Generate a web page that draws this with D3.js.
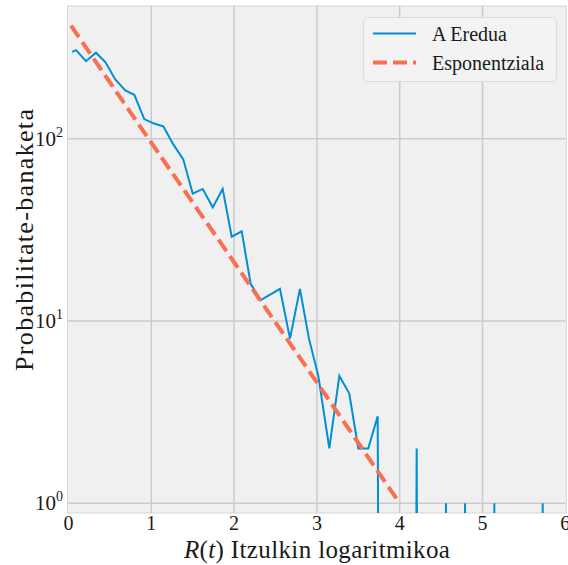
<!DOCTYPE html>
<html>
<head>
<meta charset="utf-8">
<script src="https://cdn.jsdelivr.net/npm/d3@7"></script>
<style>
  body { margin: 0; background: #ffffff; }
  svg text { font-family: "Liberation Serif", "DejaVu Serif", serif; fill: #1a1a1a; }
</style>
</head>
<body>
<svg id="chart" width="568" height="565"></svg>
<script>
// Histogram (A Eredua) - x positions and counts, 0 = empty bin
var ereduaX = [0.042, 0.091, 0.211, 0.332, 0.445, 0.565, 0.686, 0.795, 0.915, 1.032,
               1.145, 1.266, 1.386, 1.500, 1.621, 1.742, 1.862, 1.971, 2.092, 2.200,
               2.321, 2.440, 2.554, 2.675, 2.795, 2.904, 3.017, 3.150, 3.271, 3.391,
               3.500, 3.620, 3.734, 3.852, 3.970, 4.088, 4.205, 4.323, 4.441, 4.559,
               4.674, 4.789, 4.907, 5.025, 5.143, 5.260, 5.377, 5.494, 5.611, 5.727, 5.845];
var ereduaY = [299, 306, 266, 296, 263, 211, 184, 174, 128, 121,
               117, 93, 77, 50, 53, 42, 53, 29, 31, 16,
               13, 14, 15, 8, 15, 8, 5, 2, 5, 4,
               2, 2, 3, 0, 0, 0, 2, 0, 0, 1,
               0, 1, 0, 0, 1, 0, 0, 0, 0, 1, 0];

// Esponentziala (dashed fit)
var espX = [0.03, 1, 2, 3, 4.0];
var espY = [417, 95, 21, 4.6, 1.0];

var xTicks = [0, 1, 2, 3, 4, 5, 6];
var yTicks = [1, 10, 100];
var yExp = ["0", "1", "2"];

var svg = d3.select("#chart");

// Plot area ("top" is taken by window.top, so other names)
var pLeft = 68.5, pRight = 565.3, pTop = 6, pBottom = 513;

var x = d3.scaleLinear().domain([0, 6]).range([pLeft, pRight]);
var y = d3.scaleLog().domain([0.885, 534]).range([pBottom, pTop]);

svg.append("rect")
    .attr("x", pLeft - 1).attr("y", pTop)
    .attr("width", pRight - pLeft + 2).attr("height", pBottom - pTop)
    .attr("fill", "#f0f0f0")
    .attr("stroke", "#d6d6d6")
    .attr("stroke-width", 1);

// grid
svg.append("g")
    .selectAll("line")
    .data(xTicks.slice(1, 6))
    .enter()
    .append("line")
    .attr("x1", function(d) { return x(d); })
    .attr("x2", function(d) { return x(d); })
    .attr("y1", pTop).attr("y2", pBottom)
    .attr("stroke", "#cbcbcb").attr("stroke-width", 1.5);

svg.append("g")
    .selectAll("line")
    .data(yTicks)
    .enter()
    .append("line")
    .attr("x1", pLeft).attr("x2", pRight)
    .attr("y1", function(d) { return y(d); })
    .attr("y2", function(d) { return y(d); })
    .attr("stroke", "#cbcbcb").attr("stroke-width", 1.5);

// clip
svg.append("clipPath").attr("id", "clip")
    .append("rect")
    .attr("x", pLeft).attr("y", pTop)
    .attr("width", pRight - pLeft).attr("height", pBottom - pTop);

var plot = svg.append("g").attr("clip-path", "url(#clip)");

// zeros go far below the axis like matplotlib does on a log axis
var floorValue = 1e-12;

var ereduaData = ereduaX.map(function(d, i) { return { x: d, v: ereduaY[i] }; });
var espData = espX.map(function(d, i) { return { x: d, v: espY[i] }; });

var linea = d3.line()
    .x(function(d) { return x(d.x); })
    .y(function(d) { return y(d.v > 0 ? d.v : floorValue); });

plot.append("path")
    .datum(ereduaData)
    .attr("d", linea)
    .attr("fill", "none")
    .attr("stroke", "#008fd5")
    .attr("stroke-width", 2)
    .attr("stroke-linejoin", "miter");

plot.append("path")
    .datum(espData)
    .attr("d", linea)
    .attr("fill", "none")
    .attr("stroke", "#fa6e52")
    .attr("stroke-width", 4)
    .attr("stroke-dasharray", "14,6");

// x tick labels
svg.append("g")
    .selectAll("text")
    .data(xTicks)
    .enter()
    .append("text")
    .attr("x", function(d) { return x(d); })
    .attr("y", 530)
    .attr("text-anchor", "middle")
    .style("font-size", "20px")
    .text(function(d) { return d; });

// y tick labels 10^n
var yLab = svg.append("g")
    .selectAll("text")
    .data(yTicks)
    .enter()
    .append("text")
    .attr("x", 63)
    .attr("y", function(d) { return y(d) + 7; })
    .attr("text-anchor", "end")
    .style("font-size", "21px");
yLab.append("tspan").text("10");
yLab.append("tspan")
    .attr("dy", -9)
    .style("font-size", "14px")
    .text(function(d, i) { return yExp[i]; });

// axis titles
var xt = svg.append("text")
    .attr("x", (pLeft + pRight) / 2)
    .attr("y", 558)
    .attr("text-anchor", "middle")
    .attr("textLength", 266)
    .style("font-size", "25px");
xt.append("tspan").style("font-style", "italic").text("R");
xt.append("tspan").text("(");
xt.append("tspan").style("font-style", "italic").text("t");
xt.append("tspan").text(") Itzulkin logaritmikoa");

svg.append("text")
    .attr("transform", "translate(33,240) rotate(-90)")
    .attr("text-anchor", "middle")
    .attr("textLength", 262)
    .style("font-size", "26px")
    .text("Probabilitate-banaketa");

// legend
var legend = svg.append("g");
legend.append("rect")
    .attr("x", 363.5).attr("y", 17.5)
    .attr("width", 193).attr("height", 64)
    .attr("rx", 4)
    .attr("fill", "#f3f3f3")
    .attr("stroke", "#dcdcdc");

var legendItems = [
    { label: "A Eredua", color: "#008fd5", width: 2, dash: null },
    { label: "Esponentziala", color: "#fa6e52", width: 4, dash: "14,6" }
];

legendItems.forEach(function(d, i) {
    var ly = 33.5 + i * 29;
    legend.append("line")
        .attr("x1", 373).attr("x2", 416)
        .attr("y1", ly).attr("y2", ly)
        .attr("stroke", d.color)
        .attr("stroke-width", d.width)
        .attr("stroke-dasharray", d.dash);
    legend.append("text")
        .attr("x", 432)
        .attr("y", ly + 7)
        .style("font-size", "20px")
        .text(d.label);
});
</script>
</body>
</html>
